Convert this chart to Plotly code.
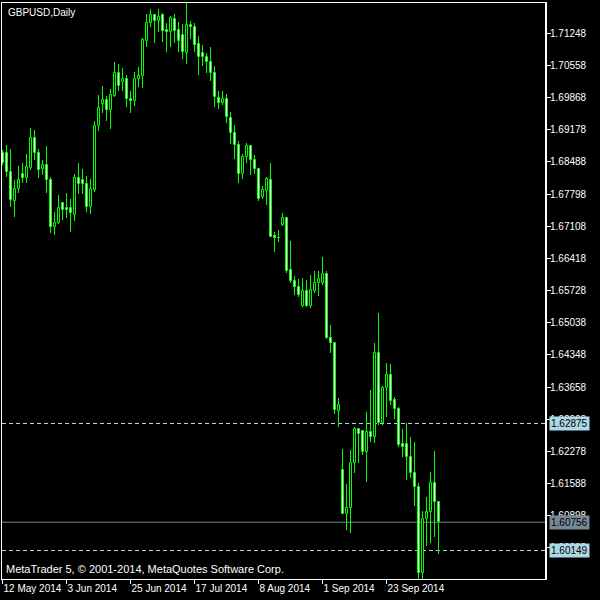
import plotly.graph_objects as go

# ---- data (GBPUSD daily) ----
opens = [1.6867, 1.6867, 1.6827, 1.6766, 1.6790, 1.6823, 1.6814, 1.6836, 1.6900, 1.6867,
         1.6834, 1.6842, 1.6810, 1.6710, 1.6717, 1.6761, 1.6751, 1.6751, 1.6735, 1.6814,
         1.6810, 1.6801, 1.6753, 1.6789, 1.6925, 1.6973, 1.6982, 1.6960, 1.6990, 1.7039,
         1.7021, 1.7027, 1.6983, 1.6980, 1.7027, 1.7033, 1.7109, 1.7148, 1.7164, 1.7152,
         1.7164, 1.7132, 1.7128, 1.7155, 1.7132, 1.7121, 1.7083, 1.7143, 1.7138, 1.7102,
         1.7082, 1.7073, 1.7064, 1.7039, 1.6986, 1.6976, 1.6983, 1.6943, 1.6911, 1.6885,
         1.6823, 1.6859, 1.6883, 1.6853, 1.6833, 1.6774, 1.6787, 1.6810, 1.6689, 1.6686,
         1.6713, 1.6728, 1.6616, 1.6593, 1.6580, 1.6540, 1.6572, 1.6540, 1.6572, 1.6588,
         1.6590, 1.6608, 1.6470, 1.6460, 1.6315, 1.6188, 1.6093, 1.6106, 1.6202, 1.6275,
         1.6272, 1.6227, 1.6270, 1.6258, 1.6439, 1.6289, 1.6363, 1.6392, 1.6337, 1.6318,
         1.6243, 1.6243, 1.6215, 1.6182, 1.6151, 1.5967, 1.6082, 1.6098, 1.6159, 1.6118]
highs = [1.6874, 1.6885, 1.6876, 1.6810, 1.6840, 1.6847, 1.6866, 1.6921, 1.6917, 1.6876,
         1.6853, 1.6883, 1.6816, 1.6741, 1.6778, 1.6763, 1.6783, 1.6769, 1.6824, 1.6847,
         1.6833, 1.6819, 1.6812, 1.6937, 1.6992, 1.7012, 1.6990, 1.7005, 1.7063, 1.7059,
         1.7050, 1.7035, 1.7002, 1.7042, 1.7053, 1.7114, 1.7166, 1.7176, 1.7166, 1.7178,
         1.7168, 1.7148, 1.7162, 1.7166, 1.7150, 1.7145, 1.7192, 1.7152, 1.7146, 1.7119,
         1.7100, 1.7083, 1.7096, 1.7055, 1.7000, 1.7002, 1.6995, 1.6956, 1.6928, 1.6894,
         1.6866, 1.6890, 1.6885, 1.6864, 1.6835, 1.6797, 1.6817, 1.6847, 1.6699, 1.6703,
         1.6739, 1.6730, 1.6679, 1.6603, 1.6597, 1.6599, 1.6595, 1.6606, 1.6615, 1.6615,
         1.6645, 1.6615, 1.6499, 1.6462, 1.6342, 1.6232, 1.6158, 1.6231, 1.6279, 1.6277,
         1.6274, 1.6313, 1.6359, 1.6461, 1.6525, 1.6368, 1.6417, 1.6415, 1.6344, 1.6322,
         1.6275, 1.6288, 1.6259, 1.6248, 1.6160, 1.6100, 1.6130, 1.6184, 1.6229, 1.6120]
lows = [1.6842, 1.6817, 1.6753, 1.6731, 1.6783, 1.6803, 1.6803, 1.6832, 1.6853, 1.6814,
        1.6821, 1.6783, 1.6697, 1.6692, 1.6716, 1.6724, 1.6728, 1.6699, 1.6723, 1.6780,
        1.6780, 1.6742, 1.6737, 1.6785, 1.6916, 1.6953, 1.6937, 1.6920, 1.6989, 1.7002,
        1.7002, 1.6966, 1.6953, 1.6969, 1.7009, 1.7007, 1.7095, 1.7138, 1.7105, 1.7128,
        1.7107, 1.7085, 1.7095, 1.7103, 1.7085, 1.7069, 1.7059, 1.7112, 1.7085, 1.7035,
        1.7055, 1.7039, 1.7023, 1.6966, 1.6962, 1.6971, 1.6933, 1.6887, 1.6855, 1.6803,
        1.6813, 1.6846, 1.6821, 1.6823, 1.6766, 1.6769, 1.6756, 1.6687, 1.6656, 1.6676,
        1.6711, 1.6611, 1.6590, 1.6563, 1.6560, 1.6537, 1.6538, 1.6535, 1.6567, 1.6561,
        1.6585, 1.6468, 1.6439, 1.6308, 1.6281, 1.6093, 1.6060, 1.6052, 1.6182, 1.6203,
        1.6220, 1.6163, 1.6248, 1.6246, 1.6284, 1.6284, 1.6302, 1.6327, 1.6297, 1.6238,
        1.6215, 1.6166, 1.6170, 1.6110, 1.5950, 1.5950, 1.6025, 1.6032, 1.6043, 1.6007]
closes = [1.6847, 1.6827, 1.6767, 1.6790, 1.6810, 1.6814, 1.6837, 1.6900, 1.6867, 1.6832,
          1.6842, 1.6810, 1.6710, 1.6717, 1.6751, 1.6746, 1.6746, 1.6739, 1.6814, 1.6801,
          1.6801, 1.6753, 1.6790, 1.6926, 1.6964, 1.6982, 1.6960, 1.6992, 1.7039, 1.7012,
          1.7027, 1.6983, 1.6980, 1.7027, 1.7033, 1.7110, 1.7148, 1.7164, 1.7152, 1.7159,
          1.7130, 1.7128, 1.7157, 1.7130, 1.7109, 1.7085, 1.7143, 1.7138, 1.7100, 1.7075,
          1.7073, 1.7064, 1.7039, 1.6988, 1.6975, 1.6983, 1.6945, 1.6910, 1.6885, 1.6822,
          1.6859, 1.6883, 1.6853, 1.6833, 1.6769, 1.6789, 1.6812, 1.6688, 1.6685, 1.6685,
          1.6728, 1.6615, 1.6594, 1.6580, 1.6563, 1.6572, 1.6540, 1.6574, 1.6588, 1.6597,
          1.6608, 1.6470, 1.6460, 1.6316, 1.6327, 1.6093, 1.6106, 1.6202, 1.6275, 1.6265,
          1.6227, 1.6270, 1.6258, 1.6438, 1.6288, 1.6363, 1.6392, 1.6336, 1.6318, 1.6241,
          1.6238, 1.6215, 1.6182, 1.6151, 1.5967, 1.6082, 1.6098, 1.6159, 1.6118, 1.60756]

date_tick_pos = [0, 16, 32, 48, 64, 80, 96]
date_tick_text = ["12 May 2014", "3 Jun 2014", "25 Jun 2014", "17 Jul 2014",
                  "8 Aug 2014", "1 Sep 2014", "23 Sep 2014"]
price_ticks = [1.60208, 1.60898, 1.61588, 1.62278, 1.62968, 1.63658, 1.64348, 1.65038,
               1.65728, 1.66418, 1.67108, 1.67798, 1.68488, 1.69178, 1.69868, 1.70558, 1.71248]
price_tick_text = ["%.5f" % v for v in price_ticks]

level_upper = 1.62875
level_lower = 1.60149
bid_price = 1.60756

title_text = "GBPUSD,Daily"
copyright_text = "MetaTrader 5, \u00a9 2001-2014, MetaQuotes Software Corp."

# ---- figure ----
LIME = "#00FF00"
FONT = "Liberation Sans"
x = list(range(len(closes)))

body_base = [min(o, c) for o, c in zip(opens, closes)]
body_h = [max(abs(c - o), 0.00002) for o, c in zip(opens, closes)]
body_fill = ["#000000" if c >= o else "#FFFFFF" for o, c in zip(opens, closes)]
wick_base = lows
wick_h = [h - l for h, l in zip(highs, lows)]

fig = go.Figure()
fig.add_trace(go.Bar(x=x, y=wick_h, base=wick_base, width=0.25,
                     marker=dict(color=LIME, line=dict(width=0)),
                     hoverinfo="skip"))
fig.add_trace(go.Bar(x=x, y=body_h, base=body_base, width=0.5,
                     marker=dict(color=body_fill, line=dict(color=LIME, width=1)),
                     hoverinfo="skip"))

shapes = [
    dict(type="line", xref="paper", x0=0, x1=1, yref="y", y0=bid_price, y1=bid_price,
         line=dict(color="#778899", width=1), layer="below"),
    dict(type="line", xref="paper", x0=0, x1=1, yref="y", y0=level_upper, y1=level_upper,
         line=dict(color="#ADD8E6", width=1, dash="4px,3px"), layer="below"),
    dict(type="line", xref="paper", x0=0, x1=1, yref="y", y0=level_lower, y1=level_lower,
         line=dict(color="#ADD8E6", width=1, dash="4px,3px"), layer="below"),
    dict(type="line", xref="paper", x0=1, x1=1, yref="paper", y0=0, y1=1,
         line=dict(color="#FFFFFF", width=2), layer="above"),
]

annotations = [
    dict(text=title_text, xref="paper", yref="paper", x=0, y=1, xanchor="left", yanchor="top",
         xshift=4, yshift=-2, showarrow=False, font=dict(family=FONT, size=10, color="#FFFFFF")),
    dict(text=copyright_text, xref="paper", yref="paper", x=0, y=0, xanchor="left",
         yanchor="bottom", xshift=2, yshift=2, showarrow=False,
         font=dict(family=FONT, size=11, color="#FFFFFF")),
]
for val, bg in [(level_upper, "#ADD8E6"), (bid_price, "#778899"), (level_lower, "#ADD8E6")]:
    annotations.append(dict(text="%.5f" % val, xref="paper", yref="y", x=1, y=val,
                            xanchor="left", yanchor="middle", xshift=3, showarrow=False,
                            bgcolor=bg, borderpad=1,
                            font=dict(family=FONT, size=10, color="#000000")))

fig.update_layout(
    width=600, height=600,
    paper_bgcolor="#000000", plot_bgcolor="#000000",
    margin=dict(l=2, r=54, t=3, b=21),
    showlegend=False, barmode="overlay", bargap=0,
    shapes=shapes, annotations=annotations,
    xaxis=dict(range=[-0.125, 135.875], tickvals=date_tick_pos, ticktext=date_tick_text,
               ticks="outside", ticklen=4, tickcolor="#FFFFFF", ticklabelposition="outside right",
               tickfont=dict(family=FONT, size=10, color="#FFFFFF"),
               showgrid=False, zeroline=False, showline=True, linecolor="#FFFFFF",
               linewidth=1, mirror=True, automargin=False, fixedrange=True),
    yaxis=dict(range=[1.59538, 1.71899], side="right", tickvals=price_ticks,
               ticktext=price_tick_text, ticks="outside", ticklen=4, tickcolor="#FFFFFF",
               ticklabelstandoff=-3,
               tickfont=dict(family=FONT, size=10, color="#FFFFFF"),
               showgrid=False, zeroline=False, showline=True, linecolor="#FFFFFF",
               linewidth=1, mirror=True, automargin=False, fixedrange=True),
)

fig.write_html("out.html", config={"displayModeBar": False},
               post_script="document.body.style.margin='0';document.body.style.background='#000';")
